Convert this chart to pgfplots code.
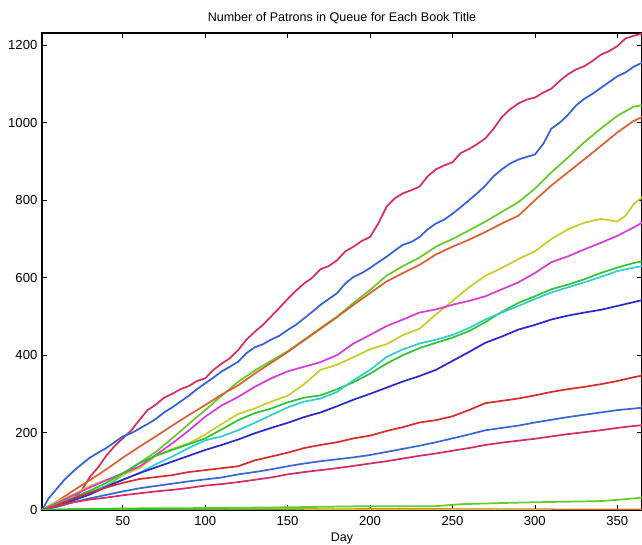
\documentclass[border=0pt]{standalone}
\usepackage{pgfplots}
\pgfplotsset{compat=1.18}
\usepackage{fontspec}
\setmainfont{Liberation Sans}
\definecolor{cA}{RGB}{212,46,98}
\definecolor{cB}{RGB}{52,98,214}
\definecolor{cC}{RGB}{104,200,44}
\definecolor{cD}{RGB}{216,98,50}
\definecolor{cE}{RGB}{204,202,44}
\definecolor{cF}{RGB}{214,60,214}
\definecolor{cG}{RGB}{52,194,52}
\definecolor{cH}{RGB}{52,204,204}
\definecolor{cI}{RGB}{42,42,204}
\definecolor{cJ}{RGB}{212,46,46}
\definecolor{cK}{RGB}{56,104,216}
\definecolor{cL}{RGB}{208,46,100}
\begin{document}
\begin{tikzpicture}
\begin{axis}[
  scale only axis,
  width=450pt, height=357.75pt,
  xmin=1, xmax=365, ymin=0, ymax=1232,
  xtick={50,100,150,200,250,300,350},
  ytick={0,200,400,600,800,1000,1200},
  tick align=inside, xtick pos=both, ytick pos=both,
  major tick length=3.5pt,
  axis line style={black, line width=0.8pt},
  tick style={black, line width=0.5pt},
  /pgf/number format/assume math mode=true,
  ticklabel style={font=\fontsize{9.8}{11}\selectfont},
  xticklabel style={yshift=-1pt},
  scaled ticks=false,
  /pgf/number format/1000 sep={},
  title={Number of Patrons in Queue for Each Book Title},
  title style={font=\fontsize{9.4}{11}\selectfont, at={(0.5,1)}, anchor=south, yshift=-2.5pt},
  xlabel={Day},
  xlabel style={font=\fontsize{9.4}{11}\selectfont, yshift=1pt},
  every axis plot/.append style={line width=1.3pt, line join=round},
  clip=true,
]
% A crimson
\addplot[cA] coordinates {(1,0)(5,5)(10,12)(15,20)(20,30)(25,50)(30,85)(35,110)(40,140)(45,165)(50,185)(55,205)(60,232)(65,258)(70,272)(75,290)(80,300)(85,312)(90,320)(95,333)(100,340)(105,362)(110,378)(115,392)(120,413)(125,440)(130,460)(135,478)(140,500)(145,522)(150,545)(155,566)(160,585)(165,600)(170,622)(175,630)(180,645)(185,668)(190,680)(195,695)(200,705)(205,740)(210,783)(215,805)(220,818)(225,826)(230,835)(235,862)(240,880)(245,890)(250,898)(255,922)(260,932)(265,945)(270,960)(275,985)(280,1015)(285,1035)(290,1050)(295,1060)(300,1065)(305,1078)(310,1088)(315,1108)(320,1125)(325,1138)(330,1146)(335,1160)(340,1176)(345,1185)(350,1198)(355,1218)(360,1225)(365,1230)};
% B blue
\addplot[cB] coordinates {(1,0)(5,30)(10,55)(15,80)(20,100)(25,118)(30,135)(35,148)(40,160)(45,175)(50,190)(55,198)(60,210)(65,222)(70,235)(75,252)(80,265)(85,280)(90,295)(95,312)(100,327)(105,342)(110,358)(115,370)(120,383)(125,405)(130,420)(135,428)(140,440)(145,450)(150,465)(155,478)(160,495)(165,512)(170,530)(175,545)(180,560)(185,585)(190,602)(195,612)(200,625)(205,640)(210,654)(215,670)(220,685)(225,692)(230,705)(235,725)(240,740)(245,750)(250,765)(255,782)(260,800)(265,818)(270,838)(275,862)(280,880)(285,895)(290,905)(295,912)(300,918)(305,945)(310,985)(315,1000)(320,1020)(325,1045)(330,1062)(335,1075)(340,1090)(345,1105)(350,1120)(355,1130)(360,1145)(365,1155)};
% C light green
\addplot[cC] coordinates {(1,0)(10,15)(20,30)(30,45)(40,62)(50,90)(60,121)(70,150)(80,185)(90,222)(100,258)(110,295)(120,331)(130,360)(140,385)(150,410)(160,440)(170,470)(180,500)(190,535)(200,568)(210,605)(220,630)(230,652)(240,680)(250,700)(260,722)(270,745)(280,770)(290,795)(300,830)(310,872)(320,910)(330,950)(340,985)(350,1018)(360,1042)(365,1045)};
% D orange
\addplot[cD] coordinates {(1,0)(10,22)(20,50)(30,77)(40,105)(50,135)(60,163)(70,190)(80,218)(90,245)(100,271)(110,298)(120,322)(130,352)(140,380)(150,408)(160,438)(170,468)(180,498)(190,530)(200,560)(210,590)(220,612)(230,633)(240,660)(250,680)(260,698)(270,718)(280,740)(290,760)(300,800)(310,838)(320,872)(330,906)(340,940)(350,975)(360,1005)(365,1015)};
% E yellow
\addplot[cE] coordinates {(1,0)(10,22)(20,40)(30,62)(40,78)(50,90)(60,108)(70,140)(80,158)(90,172)(100,195)(110,222)(120,248)(130,262)(140,280)(150,295)(160,325)(170,362)(180,375)(190,395)(200,415)(210,428)(220,452)(230,468)(240,505)(250,540)(260,575)(270,605)(280,625)(290,648)(300,668)(310,700)(320,725)(330,742)(340,752)(350,745)(355,760)(360,790)(365,808)};
% F magenta
\addplot[cF] coordinates {(1,0)(10,18)(20,38)(30,58)(40,77)(50,95)(60,112)(70,142)(80,172)(90,205)(100,241)(110,270)(120,292)(130,318)(140,340)(150,358)(160,370)(170,382)(180,400)(190,430)(200,452)(210,475)(220,492)(230,510)(240,518)(250,530)(260,540)(270,552)(280,570)(290,588)(300,612)(310,640)(320,655)(330,673)(340,690)(350,708)(360,730)(365,742)};
% G green
\addplot[cG] coordinates {(1,0)(10,15)(20,32)(30,50)(40,70)(50,95)(60,121)(70,140)(80,155)(90,170)(100,185)(110,208)(120,232)(130,250)(140,262)(150,278)(160,290)(170,296)(180,312)(190,330)(200,352)(210,378)(220,400)(230,418)(240,432)(250,445)(260,462)(270,485)(280,512)(290,535)(300,552)(310,570)(320,582)(330,596)(340,612)(350,626)(360,638)(365,642)};
% H cyan
\addplot[cH] coordinates {(1,0)(10,12)(20,28)(30,45)(40,62)(50,78)(60,95)(70,118)(80,138)(90,160)(100,180)(110,190)(120,206)(130,225)(140,245)(150,265)(160,280)(170,288)(180,305)(190,335)(200,362)(210,395)(220,415)(230,430)(240,440)(250,452)(260,470)(270,492)(280,510)(290,527)(300,545)(310,562)(320,575)(330,588)(340,602)(350,617)(360,626)(365,630)};
% I dark blue
\addplot[cI] coordinates {(1,0)(10,10)(20,25)(30,40)(40,60)(50,78)(60,95)(70,110)(80,125)(90,140)(100,155)(110,168)(120,182)(130,198)(140,212)(150,225)(160,240)(170,252)(180,268)(190,285)(200,300)(210,316)(220,332)(230,346)(240,362)(250,385)(260,408)(270,432)(280,448)(290,466)(300,478)(310,492)(320,502)(330,510)(340,517)(350,527)(360,537)(365,542)};
% J red
\addplot[cJ] coordinates {(1,0)(10,12)(20,30)(30,45)(40,58)(50,70)(60,80)(70,85)(80,90)(90,98)(100,103)(110,108)(120,113)(130,128)(140,138)(150,148)(160,160)(170,168)(180,175)(190,185)(200,192)(210,204)(220,214)(230,226)(240,232)(250,242)(260,258)(270,276)(280,282)(290,288)(300,296)(310,305)(320,312)(330,318)(340,325)(350,333)(360,343)(365,347)};
% K blue
\addplot[cK] coordinates {(1,0)(10,8)(20,20)(30,30)(40,39)(50,48)(60,56)(70,62)(80,68)(90,74)(100,79)(110,84)(120,92)(130,98)(140,105)(150,113)(160,120)(170,126)(180,131)(190,136)(200,142)(210,150)(220,158)(230,166)(240,175)(250,185)(260,195)(270,206)(280,212)(290,218)(300,226)(310,233)(320,240)(330,246)(340,252)(350,258)(360,262)(365,264)};
% L crimson
\addplot[cL] coordinates {(1,0)(10,10)(20,20)(30,27)(40,32)(50,38)(60,43)(70,48)(80,52)(90,57)(100,63)(110,67)(120,72)(130,78)(140,84)(150,92)(160,98)(170,103)(180,108)(190,114)(200,120)(210,126)(220,133)(230,140)(240,146)(250,153)(260,160)(270,168)(280,174)(290,179)(300,184)(310,190)(320,196)(330,201)(340,206)(350,212)(360,217)(365,219)};
% M green low
\addplot[cC] coordinates {(1,0)(20,2)(50,4)(100,5)(150,7)(200,10)(240,10)(255,15)(280,18)(300,20)(340,23)(355,28)(365,32)};
% N orange flat
\addplot[cD] coordinates {(1,0)(30,2)(60,3)(100,2)(140,3)(180,2)(220,3)(260,2)(300,2)(330,1)(365,1)};
% O yellow low
\addplot[cE] coordinates {(1,0)(50,1)(150,2)(250,1)(310,0)};
% P green low
\addplot[cG] coordinates {(1,0)(20,2)(50,3)(80,2)(120,1)(160,0)};
\end{axis}
\pgfresetboundingbox
\path ([xshift=-31.5pt,yshift=-26.25pt]current axis.south west) rectangle ([yshift=24.75pt]current axis.north east);
\end{tikzpicture}
\end{document}
